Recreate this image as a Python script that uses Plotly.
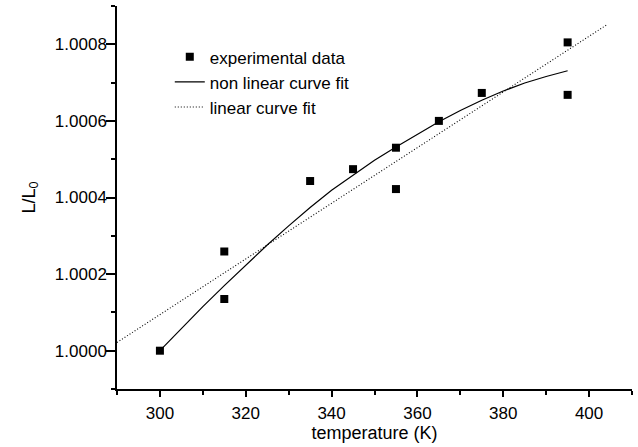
import plotly.graph_objects as go

# experimental data
exp_temp = [300, 315, 315, 335, 345, 355, 355, 365, 375, 395, 395]
exp_ratio = [1.000000, 1.000259, 1.000135, 1.000443, 1.000474, 1.000530, 1.000422,
             1.000600, 1.000673, 1.000805, 1.000668]

# non linear curve fit
nl_temp = [300, 305, 310, 315, 320, 325, 330, 335, 340, 345, 350, 355, 360, 365,
           370, 375, 380, 385, 390, 395]
nl_ratio = [1.000000, 1.000058, 1.000115, 1.000170, 1.000224, 1.000276, 1.000326,
            1.000374, 1.000419, 1.000459, 1.000497, 1.000532, 1.000566, 1.000598,
            1.000627, 1.000654, 1.000678, 1.000699, 1.000716, 1.000731]

# linear curve fit (end points)
lin_temp = [290, 404]
lin_ratio = [1.0000216, 1.000850]

FONT = "Liberation Sans, Arial, Helvetica, sans-serif"

fig = go.Figure()
fig.add_trace(go.Scatter(x=exp_temp, y=exp_ratio, mode="markers", name="experimental data",
                         legendgroup="a",
                         marker=dict(symbol="square", size=8, color="black")))
fig.add_trace(go.Scatter(x=nl_temp, y=nl_ratio, mode="lines", name="non linear curve fit",
                         legendgroup="b",
                         line=dict(color="black", width=1.2)))
fig.add_trace(go.Scatter(x=lin_temp, y=lin_ratio, mode="lines", name="linear curve fit",
                         legendgroup="c",
                         line=dict(color="black", width=1.1, dash="1px,2px")))

fig.update_layout(
    width=638, height=447,
    margin=dict(l=117, r=6, t=6, b=58),
    plot_bgcolor="white", paper_bgcolor="white",
    font=dict(family=FONT, size=17, color="black"),
    showlegend=True,
    legend=dict(x=0.1025, y=0.913, xanchor="left", yanchor="top",
                bgcolor="rgba(0,0,0,0)", font=dict(size=17),
                traceorder="grouped", tracegroupgap=0),
    xaxis=dict(range=[290, 410], tick0=300, dtick=20, tickformat="d",
               automargin=False, ticklabelstandoff=2,
               showgrid=False, zeroline=False, showline=True, linecolor="black",
               linewidth=1.5, ticks="outside", ticklen=6, tickwidth=1.5,
               tickcolor="black",
               minor=dict(dtick=10, tick0=290, ticks="outside", ticklen=4,
                          tickwidth=1.5, tickcolor="black", showgrid=False),
               title=dict(text="temperature (K)", font=dict(size=18), standoff=0)),
    yaxis=dict(range=[0.9999, 1.0009], tick0=1.0, dtick=0.0002, tickformat=".4f",
               automargin=False, ticklabelstandoff=-4,
               showgrid=False, zeroline=False, showline=True, linecolor="black",
               linewidth=1.5, ticks="outside", ticklen=9, tickwidth=1.5,
               tickcolor="black",
               minor=dict(dtick=0.0001, ticks="outside", ticklen=4,
                          tickwidth=1.5, tickcolor="black", showgrid=False),
               title=dict(text="L/L<sub>0</sub>", font=dict(size=18), standoff=15)),
)

fig.write_html("out.html", config={"displayModeBar": False},
               post_script="document.body.style.margin='0';document.body.style.padding='0';")
